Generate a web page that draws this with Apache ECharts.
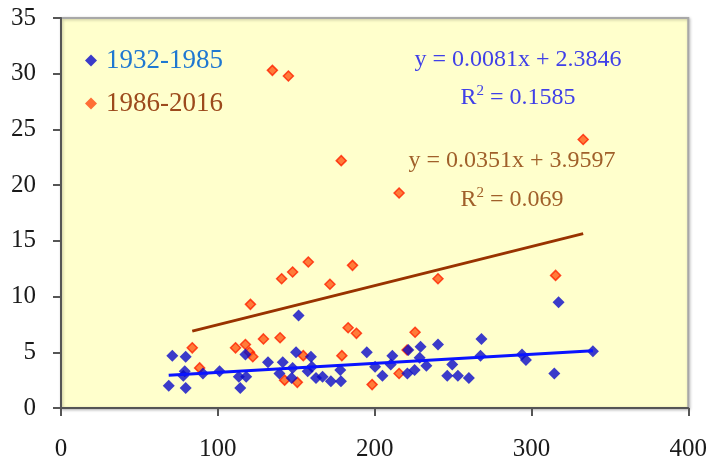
<!DOCTYPE html>
<html>
<head>
<meta charset="utf-8">
<script src="https://cdn.jsdelivr.net/npm/echarts@6/dist/echarts.min.js"></script>
<style>
  html, body { margin: 0; padding: 0; background: #fff; }
  #main { width: 710px; height: 468px; }
</style>
</head>
<body>
<div id="main"></div>
<script>
var chartDom = document.getElementById('main')
var myChart = echarts.init(chartDom)
var option

// 1932-1985 points [x, y]
const early = [
  [68.7, 2.0], [71, 4.7], [79.5, 4.6], [79.5, 1.8], [78.9, 3.3], [78, 2.9],
  [90.5, 3.1], [101.1, 3.3], [113.4, 2.8], [114.3, 1.8], [118.1, 2.8], [117.6, 4.8],
  [132, 4.1], [141.4, 4.1], [139.3, 3.1], [147.7, 3.6], [147.1, 2.7], [149.9, 5.0],
  [151.5, 8.3], [159.4, 4.6], [157.3, 3.3], [160, 3.7], [162.6, 2.7], [166.8, 2.8],
  [172.1, 2.4], [178.5, 2.4], [178.1, 3.4], [195, 5.0], [200.3, 3.7], [205, 2.9],
  [211.3, 4.7], [210.3, 3.9], [221.5, 5.2], [220.9, 3.1], [225.5, 3.4], [229.3, 5.5],
  [228.7, 4.5], [233, 3.8], [240.4, 5.7], [249.5, 3.9], [246.3, 2.9], [253.1, 2.9],
  [260.1, 2.7], [268.1, 6.2], [267.5, 4.7], [294, 4.8], [296.5, 4.3], [314.6, 3.1],
  [317.3, 9.5], [339.2, 5.1]
]

// 1986-2016 points [x, y]
const late = [
  [134.8, 30.3], [145, 29.8], [178.7, 22.2], [333, 24.1], [215.6, 19.3], [315.4, 11.9],
  [240.4, 11.6], [225.8, 6.8], [220.7, 5.2], [215.6, 3.1], [198.4, 2.1],
  [83.7, 5.4], [88.4, 3.6], [111.3, 5.4], [117.6, 5.7], [120.2, 5.0], [122.3, 4.6],
  [120.8, 9.3], [129.1, 6.2], [139.7, 6.3], [140.7, 11.6], [147.7, 12.2], [157.7, 13.1],
  [171.5, 11.1], [185.9, 12.8], [183.1, 7.2], [188.4, 6.7], [179.1, 4.7], [154.5, 4.7],
  [142.6, 2.5], [150.7, 2.3]
]

// trend coefficients [slope, intercept]
const earlyFit = [0.0081, 2.3846]
const lateFit = [0.0351, 3.9597]

const xTicks = [0, 400, 100]
const yTicks = [0, 35, 5]

function trend(pts, fit) {
  var xs = pts.map(p => p[0])
  var a = Math.min.apply(null, xs), b = Math.max.apply(null, xs)
  return [[a, fit[0] * a + fit[1]], [b, fit[0] * b + fit[1]]]
}

const serif = 'Liberation Serif'

function eqText(x, y, text, color) {
  return {
    type: 'text',
    x: x,
    y: y,
    style: {
      text: text,
      fill: color,
      font: '24px "Liberation Serif"',
      align: 'center',
      verticalAlign: 'middle',
      rich: { s: { fontSize: 15, fontFamily: serif, fill: color, padding: [0, 0, 13, 0] } }
    }
  }
}

option = {
  animation: false,
  backgroundColor: '#fff',
  grid: {
    left: 61,
    right: 21,
    top: 18,
    bottom: 60,
    show: true,
    backgroundColor: '#ffffcc',
    borderColor: '#a8a8a8',
    borderWidth: 2,
    shadowColor: 'rgba(0,0,0,0.25)',
    shadowBlur: 3,
    shadowOffsetX: 1,
    shadowOffsetY: 1
  },
  legend: {
    orient: 'vertical',
    left: 80,
    top: 42,
    itemGap: 16,
    itemWidth: 12,
    itemHeight: 12,
    data: [
      { name: '1932-1985', icon: 'diamond', textStyle: { color: '#1f78d1' },
        itemStyle: { color: '#0a0ac8', borderWidth: 0 } },
      { name: '1986-2016', icon: 'diamond', textStyle: { color: '#9c4a1c' },
        itemStyle: { color: '#ff4a10', borderWidth: 0 } }
    ],
    textStyle: { fontFamily: serif, fontSize: 27, padding: [0, 0, 0, 4] }
  },
  xAxis: {
    type: 'value',
    min: xTicks[0],
    max: xTicks[1],
    interval: xTicks[2],
    splitLine: { show: false },
    axisLine: { lineStyle: { color: '#555', width: 2 } },
    axisTick: { length: 8, lineStyle: { color: '#555', width: 2 } },
    axisLabel: { margin: 29, color: '#1a1a1a', fontFamily: serif, fontSize: 25 }
  },
  yAxis: {
    type: 'value',
    min: yTicks[0],
    max: yTicks[1],
    interval: yTicks[2],
    splitLine: { show: false },
    axisLine: { show: true, lineStyle: { color: '#555', width: 2 } },
    axisTick: { show: true, length: 8, lineStyle: { color: '#555', width: 2 } },
    axisLabel: { margin: 25, color: '#1a1a1a', fontFamily: serif, fontSize: 25 }
  },
  graphic: [
    eqText(518, 60, 'y = 0.0081x + 2.3846', '#4040e8'),
    eqText(518, 98, 'R{s|2} = 0.1585', '#4040e8'),
    eqText(512, 161, 'y = 0.0351x + 3.9597', '#a0602a'),
    eqText(512, 200, 'R{s|2} = 0.069', '#a0602a')
  ],
  series: [
    {
      name: '1986-2016',
      type: 'scatter',
      symbol: 'diamond',
      symbolSize: 10,
      itemStyle: { color: '#ff5a14', borderColor: '#ff2200', borderWidth: 1.5 },
      data: late,
      z: 3
    },
    {
      name: '1932-1985',
      type: 'scatter',
      symbol: 'diamond',
      symbolSize: 12,
      itemStyle: { color: '#0a0ac8' },
      data: early,
      z: 4
    },
    {
      name: 'trend-late',
      type: 'line',
      data: trend(late, lateFit),
      symbol: 'none',
      lineStyle: { color: '#993300', width: 3 },
      z: 5
    },
    {
      name: 'trend-early',
      type: 'line',
      data: trend(early, earlyFit),
      symbol: 'none',
      lineStyle: { color: '#0a14ff', width: 3 },
      z: 5
    }
  ]
}

option && myChart.setOption(option)
</script>
</body>
</html>
